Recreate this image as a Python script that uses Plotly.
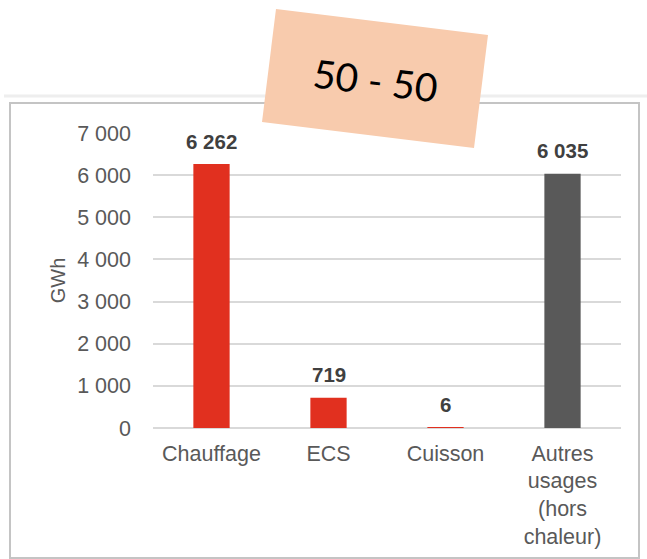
import plotly.graph_objects as go

# Consommation par usage (GWh)
categories = ["Chauffage", "ECS", "Cuisson", "Autres<br>usages<br>(hors<br>chaleur)"]
values = [6262, 719, 6, 6035]
bar_colors = ["#E1301F", "#E1301F", "#E1301F", "#595959"]
y_ticks = [0, 1000, 2000, 3000, 4000, 5000, 6000, 7000]
badge_text = "50 - 50"

W, H = 647, 559
L, R, T, B = 153, 26, 133, 131
PW, PH = W - L - R, H - T - B


def px(x, y):
    """Pixel position -> paper coordinates of the plot area."""
    return (x - L) / PW, (H - B - y) / PH


def fmt(v):
    return f"{v:,}".replace(",", " ")


fig = go.Figure(
    go.Bar(
        x=categories,
        y=values,
        marker=dict(color=bar_colors, line=dict(width=0)),
        width=0.31,
        hoverinfo="skip",
    )
)

# value labels above each bar
for c, v in zip(categories, values):
    fig.add_annotation(
        x=c, y=v, xref="x", yref="y",
        text=f"<b>{fmt(v)}</b>", showarrow=False,
        yanchor="middle", yshift=23,
        font=dict(family="Liberation Sans, Arial", size=20.5, color="#404040"),
    )

# chart frame
x0, y0 = px(10, 103)
x1, y1 = px(639, 558)
fig.add_shape(type="rect", xref="paper", yref="paper", x0=x0, y0=y1, x1=x1, y1=y0,
              line=dict(color="#C4C4C4", width=2), layer="below")
fa, fb = px(4, 96)
fc, _ = px(647, 96)
fig.add_shape(type="line", xref="paper", yref="paper", x0=fa, y0=fb, x1=fc, y1=fb,
              line=dict(color="#EEEEEE", width=3), layer="below")

# tilted badge
corners = [px(276, 9), px(488, 35), px(474, 148), px(262, 122)]
path = "M " + " L ".join(f"{cx:.4f},{cy:.4f}" for cx, cy in corners) + " Z"
fig.add_shape(type="path", xref="paper", yref="paper", path=path,
              fillcolor="#F8CBAD", line=dict(width=0), layer="above")
bx, by = px(375, 80)
fig.add_annotation(
    x=bx, y=by, xref="paper", yref="paper", text=badge_text, showarrow=False,
    textangle=7, xanchor="center", yanchor="middle",
    font=dict(family="Lato, Open Sans", size=39, color="#000000"),
)

fig.update_layout(
    width=W, height=H,
    margin=dict(l=L, r=R, t=T, b=B, pad=0, autoexpand=False),
    paper_bgcolor="white", plot_bgcolor="white",
    showlegend=False,
    separators=", ",
    bargap=0.69,
    font=dict(family="Liberation Sans, Arial", color="#595959"),
)
fig.update_xaxes(
    automargin=False,
    showgrid=False, showline=False, ticks="",
    tickfont=dict(size=21.5, color="#595959"),
    ticklabelstandoff=10,
)
fig.update_yaxes(
    automargin=False,
    range=[0, 7000], tickvals=y_ticks, ticktext=[fmt(t) for t in y_ticks],
    showgrid=True, gridcolor="#D9D9D9", gridwidth=1.5,
    zeroline=True, zerolinecolor="#D9D9D9", zerolinewidth=1.5,
    showline=False, ticks="",
    tickfont=dict(size=21.5, color="#595959"),
    ticklabelstandoff=21,
    title=dict(text="GWh", font=dict(size=20, color="#595959"), standoff=6),
)

fig.write_html("out.html")
